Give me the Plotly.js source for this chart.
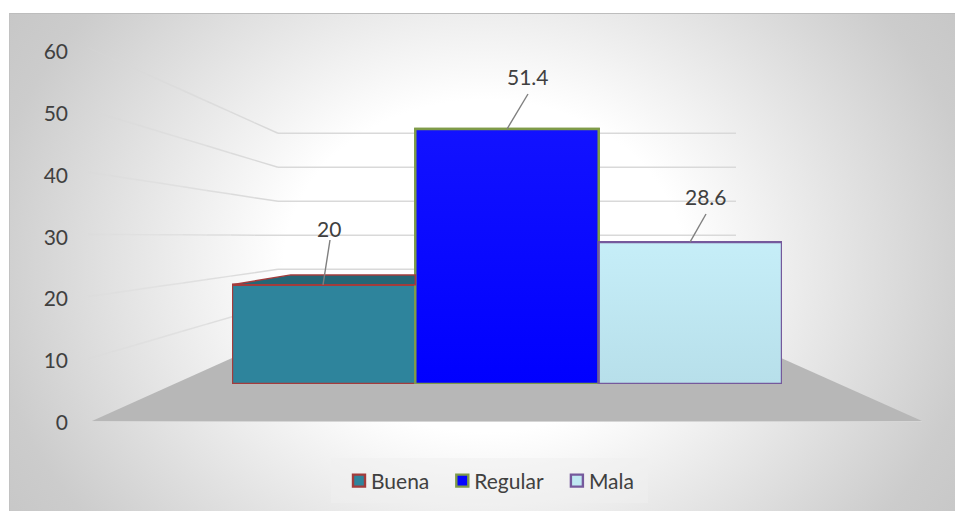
<!DOCTYPE html>
<html><head><meta charset="utf-8">
<script src="https://cdn.plot.ly/plotly-3.0.1.min.js"></script>
<style>
html,body{margin:0;padding:0;background:#fff;width:955px;height:511px;overflow:hidden}
#frame{position:absolute;left:9px;top:13px;right:0;bottom:0;box-sizing:border-box;border-top:1.5px solid #bdbdbd;border-left:1px solid #c2c2c2;
background:radial-gradient(ellipse 500px 415px at 474px 252px,#ffffff 0%,#ffffff 40%,#cccccc 100%,#bbbbbb 145%)}
#chart{position:absolute;left:0;top:0;width:955px;height:511px}
</style></head><body>
<div id="frame"></div><div id="chart"></div>
<script>
const categories=['Buena','Regular','Mala'];
const values=[20,51.4,28.6];
const fills=['#2e849c','#0505ff','#c0e8f2'];
const borders=['#a33c3c','#7f9b49','#75599c'];
const topFaceColor='#256676';
const axisTicks=[0,10,20,30,40,50,60];

const W=955,H=511;
const px=x=>x/W, py=y=>1-y/H;
const frontY=v=>421-6.22*v, backY=v=>337.3-3.4*v;
const gray='#d9d9d9';
const shapes=[];
// floor
shapes.push({type:'path',xref:'paper',yref:'paper',layer:'below',line:{width:0},fillcolor:'#b7b7b7',
 path:`M${px(92)},${py(421)} L${px(922)},${py(421)} L${px(735)},${py(337.3)} L${px(278)},${py(337.3)} Z`});
shapes.push({type:'line',xref:'paper',yref:'paper',layer:'below',x0:px(92),x1:px(922),y0:py(421.5),y1:py(421.5),line:{color:'#d6d6d6',width:1}});
// gridlines: side-wall part fades towards the axis, back-wall part is solid
const fadeSteps=8;
axisTicks.slice(1).forEach(v=>{
 for(let s=0;s<fadeSteps;s++){
  const a=s/fadeSteps,b=(s+1)/fadeSteps;
  const lx=t=>88+(278-88)*t, ly=t=>frontY(v)+(backY(v)-frontY(v))*t;
  shapes.push({type:'line',xref:'paper',yref:'paper',layer:'below',opacity:0.12+0.88*b,line:{color:gray,width:1.5},
   x0:px(lx(a)),y0:py(ly(a)),x1:px(lx(b)),y1:py(ly(b))});
 }
 shapes.push({type:'line',xref:'paper',yref:'paper',layer:'below',line:{color:gray,width:1.5},
  x0:px(278),x1:px(736),y0:py(backY(v)),y1:py(backY(v))});
});
// Buena top face
shapes.push({type:'path',xref:'x',yref:'y',layer:'above',fillcolor:topFaceColor,line:{color:borders[0],width:1.5},
 path:`M-0.5,${values[0]} L-0.18,${values[0]+2} L0.5,${values[0]+2} L0.5,${values[0]} Z`});
// leader lines
const leaders=[[323,330,240],[507,528,94],[690,706,214]];
leaders.forEach((l,i)=>{
 shapes.push({type:'line',xref:'paper',yref:'paper',x0:px(l[0]),x1:px(l[1]),y0:py(384-4.96*values[i]),y1:py(l[2]),line:{color:'#7f7f7f',width:1.4}});
});
// legend backing
shapes.push({type:'rect',xref:'paper',yref:'paper',layer:'below',x0:px(331),x1:px(648),y0:py(458),y1:py(503),line:{width:0},fillcolor:'rgba(240,240,240,0.5)'});

const labelCentres=[[329,229],[528,76],[706,197]];
const annotations=values.map((v,i)=>({xref:'paper',yref:'paper',x:px(labelCentres[i][0]),y:py(labelCentres[i][1]),text:String(v),showarrow:false,xanchor:'center',yanchor:'middle',font:{family:'Lato',size:21,color:'#404040'}}));

const traces=categories.map((c,i)=>({type:'bar',name:c,x:[c],y:[values[i]],marker:{color:fills[i],line:{color:borders[i],width:2.4}},hoverinfo:'name+y'}));
// subtle gradients over the Regular and Mala bars
const gradients=[[1,[[0,'#0000ff'],[1,'#1212ff']]],[2,[[0,'#b7dfea'],[1,'#c6eef8']]]];
gradients.forEach(([i,scale])=>{
 traces.push({type:'scatter',mode:'lines',xaxis:'x2',x:[i-0.5,i+0.5,i+0.5,i-0.5,i-0.5],y:[0,0,values[i],values[i],0],fill:'toself',
  fillgradient:{type:'vertical',colorscale:scale},line:{color:borders[i],width:2.4},showlegend:false,hoverinfo:'skip'});
});
traces.push({type:'scatter',mode:'none',x:axisTicks.slice(0,2),y:axisTicks.slice(0,2),xaxis:'x2',yaxis:'y2',showlegend:false,hoverinfo:'skip'});

const layout={width:W,height:H,margin:{l:0,r:0,t:0,b:0},paper_bgcolor:'rgba(0,0,0,0)',plot_bgcolor:'rgba(0,0,0,0)',
 barmode:'overlay',bargap:0,showlegend:true,
 font:{family:'Lato',size:21,color:'#404040'},
 xaxis:{domain:[px(232),px(782)],range:[-0.5,2.5],type:'category',categoryorder:'array',categoryarray:categories,visible:false,fixedrange:true},
 xaxis2:{overlaying:'x',domain:[px(232),px(782)],range:[-0.5,2.5],type:'linear',visible:false,fixedrange:true},
 yaxis:{domain:[py(384),py(384-4.96*60)],range:[0,60],visible:false,fixedrange:true},
 yaxis2:{anchor:'free',position:px(68),side:'left',domain:[py(422.7),py(52)],range:[0,60],tickvals:axisTicks,showgrid:false,zeroline:false,showline:false,ticks:'',tickfont:{family:'Lato',size:21,color:'#404040'},fixedrange:true},
 legend:{orientation:'h',x:px(339),y:py(481),xanchor:'left',yanchor:'middle',bgcolor:'rgba(0,0,0,0)',font:{family:'Lato',size:21,color:'#404040'},itemwidth:30,traceorder:'normal'},
 shapes,annotations};
Plotly.newPlot('chart',traces,layout,{displayModeBar:false,staticPlot:true}).then(gd=>{
 gd.querySelectorAll('.legendtext').forEach(t=>t.setAttribute('x',+t.getAttribute('x')-8));
});
</script></body></html>
